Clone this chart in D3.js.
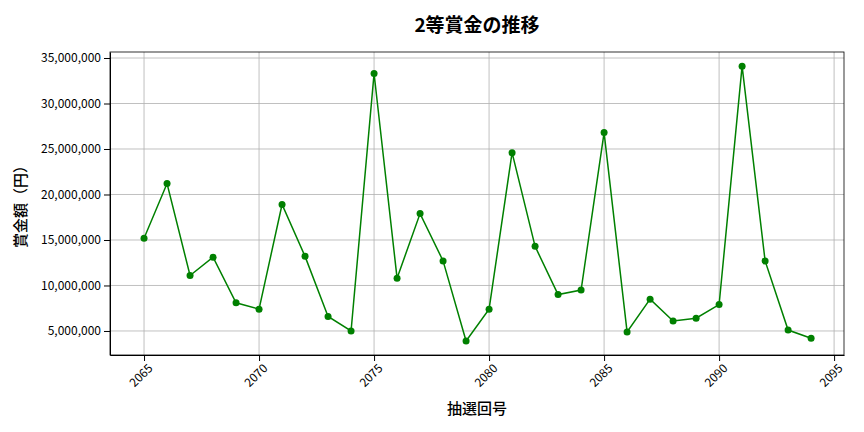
<!DOCTYPE html><html><head><meta charset="utf-8"><script src="https://cdn.jsdelivr.net/npm/d3@7"></script>
<style>body{margin:0;background:#fff}text{font-family:"Noto Sans CJK JP","Noto Sans",sans-serif}</style></head><body><svg id="c" width="864" height="432"></svg><script>
const draws=[2065,2066,2067,2068,2069,2070,2071,2072,2073,2074,2075,2076,2077,2078,2079,2080,2081,2082,2083,2084,2085,2086,2087,2088,2089,2090,2091,2092,2093,2094];
const prizes=[15.2,21.2,11.1,13.1,8.1,7.4,18.9,13.2,6.6,5.0,33.3,10.8,17.9,12.7,3.9,7.4,24.6,14.3,9.0,9.5,26.8,4.9,8.5,6.1,6.4,7.9,34.1,12.7,5.1,4.2].map(v=>v*1e6);
const xTicks=[2065,2070,2075,2080,2085,2090,2095];
const yTicks=[5e6,10e6,15e6,20e6,25e6,30e6,35e6];
const svg=d3.select("#c"),L=110,R=844,T=52,B=355;
const x=d3.scaleLinear().domain([2063.52,2095.43]).range([L,R]);
const y=d3.scaleLinear().domain([2.36e6,35.66e6]).range([B,T]);
const g=svg.append("g");
g.selectAll(".gx").data(xTicks).join("line").attr("x1",d=>x(d)).attr("x2",d=>x(d)).attr("y1",T).attr("y2",B).attr("stroke","#b0b0b0").attr("stroke-width",0.8);
g.selectAll(".gy").data(yTicks).join("line").attr("y1",d=>y(d)).attr("y2",d=>y(d)).attr("x1",L).attr("x2",R).attr("stroke","#b0b0b0").attr("stroke-width",0.8);
const xa=svg.append("g").attr("transform",`translate(0,${B})`).call(d3.axisBottom(x).tickValues(xTicks).tickFormat(d3.format("d")).tickSizeOuter(0));
xa.selectAll("text").attr("transform","rotate(-45)").attr("text-anchor","end").attr("dx","-0.3em").attr("dy","0.6em").style("font-size","12px").attr("fill","#000");
const ya=svg.append("g").attr("transform",`translate(${L},0)`).call(d3.axisLeft(y).tickValues(yTicks).tickFormat(d3.format(",")).tickSizeOuter(0));
ya.selectAll("text").style("font-size","12px").attr("fill","#000");
svg.append("rect").attr("x",L).attr("y",T).attr("width",R-L).attr("height",B-T).attr("fill","none").attr("stroke","#000").attr("stroke-width",0.8);
const pts=draws.map((d,i)=>[d,prizes[i]]);
svg.append("path").datum(pts).attr("d",d3.line().x(d=>x(d[0])).y(d=>y(d[1]))).attr("fill","none").attr("stroke","green").attr("stroke-width",1.5);
svg.selectAll(".p").data(pts).join("circle").attr("cx",d=>x(d[0])).attr("cy",d=>y(d[1])).attr("r",3.5).attr("fill","green");
svg.append("text").attr("x",477).attr("y",32).attr("text-anchor","middle").style("font-size","19px").style("font-weight","bold").text("2等賞金の推移");
svg.append("text").attr("x",477).attr("y",414).attr("text-anchor","middle").style("font-size","15px").style("font-weight","500").text("抽選回号");
svg.append("text").attr("transform","translate(26,203) rotate(-90)").attr("text-anchor","middle").style("font-size","15px").style("font-weight","500").text("賞金額（円）");
</script></body></html>
